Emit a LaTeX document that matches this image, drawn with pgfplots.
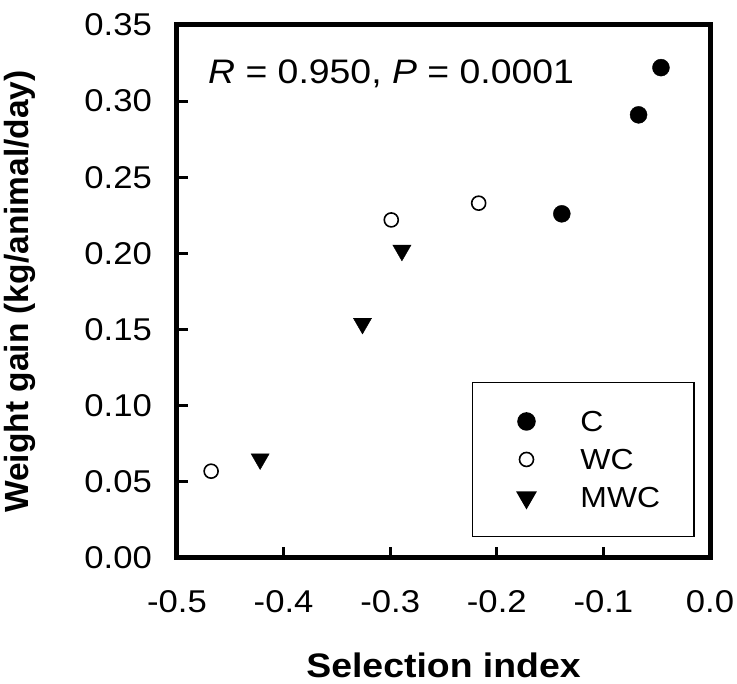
\documentclass[border=0pt]{standalone}
\usepackage{fontspec}
\setmainfont{Liberation Sans}[FakeStretch=1.1]
\newfontfamily\plainsans{Liberation Sans}
\usepackage{pgfplots}
\pgfplotsset{compat=1.18}
\begin{document}
\begin{tikzpicture}
\path[use as bounding box] (0,0) rectangle (737pt,684pt);
\begin{axis}[
  at={(177pt,126pt)}, anchor=south west,
  width=533pt, height=533pt, scale only axis,
  xmin=-0.5, xmax=0, ymin=0, ymax=0.35,
  xtick={-0.5,-0.4,-0.3,-0.2,-0.1,0},
  xticklabels={-0.5,-0.4,-0.3,-0.2,-0.1,0.0},
  ytick={0,0.05,0.10,0.15,0.20,0.25,0.30,0.35},
  yticklabels={0.00,0.05,0.10,0.15,0.20,0.25,0.30,0.35},
  tick align=inside, xtick pos=bottom, ytick pos=left,
  major tick length=11pt,
  every tick/.style={black, line width=3pt},
  axis line style={line width=5pt, line cap=rect},
  tick label style={font=\fontsize{31.5}{37}\selectfont},
  xticklabel style={anchor=north, inner sep=0pt, yshift=-32pt},
  yticklabel style={anchor=east, inner sep=0pt, xshift=-25pt},
  xlabel={Selection index},
  xlabel style={at={(axis description cs:0.5,-0.224)}, anchor=base, font=\bfseries\fontsize{34}{40}\selectfont},
  ylabel={Weight gain (kg/animal/day)},
  ylabel style={at={(axis description cs:-0.2795,0.5)}, anchor=base, rotate=0, font=\plainsans\bfseries\fontsize{33.5}{40}\selectfont},
  legend cell align=left,
  legend style={at={(axis description cs:0.553,0.039)}, anchor=south west,
    draw=black, line width=1.5pt, inner xsep=34pt, inner ysep=20pt,
    row sep=0pt, column sep=0pt,
    font=\fontsize{29}{35}\selectfont,
    nodes={inner sep=0pt, anchor=base west}},
  legend image code/.code={%
    \path[draw=none, fill=none] (-20pt,-8.6pt) rectangle (54pt,29.4pt);
    \draw[#1] plot coordinates {(0pt,10.4pt)};},
]
\addplot[only marks, color=black, mark=*, mark size=8.5pt] coordinates {
(-0.046,0.322) (-0.067,0.291) (-0.139,0.226)};
\addlegendentry{C}
\addplot[only marks, color=black, mark=o, mark size=7pt, mark options={line width=1.6pt, fill=white}] coordinates {
(-0.468,0.057) (-0.299,0.222) (-0.217,0.233)};
\addlegendentry{WC}
\addplot[only marks, color=black, mark=triangle*, mark size=10.5pt, mark options={rotate=180}] coordinates {
(-0.422,0.065) (-0.326,0.154) (-0.289,0.202)};
\addlegendentry{MWC}
\node[anchor=base west, inner sep=0pt, font=\fontsize{34}{40}\selectfont] at (axis description cs:0.058,0.891) {\textit{R} = 0.950, \textit{P} = 0.0001};
\end{axis}
\end{tikzpicture}
\end{document}
